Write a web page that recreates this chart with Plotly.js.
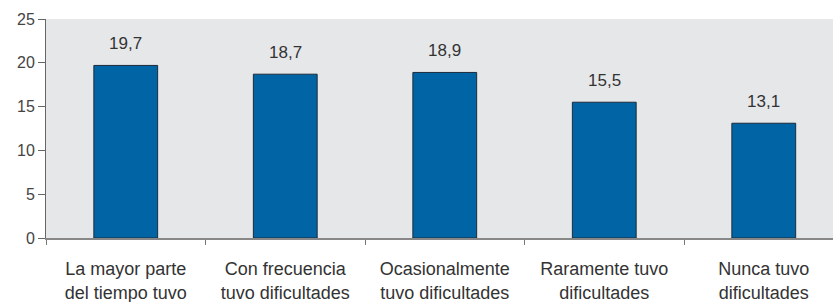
<!DOCTYPE html>
<html><head><meta charset="utf-8">
<script src="https://cdn.plot.ly/plotly-3.0.1.min.js"></script>
<style>body{margin:0;padding:0;background:#fff}#chart{width:833px;height:302px}</style>
</head><body><div id="chart"></div>
<script>
const categories = [
  "La mayor parte<br>del tiempo tuvo",
  "Con frecuencia<br>tuvo dificultades",
  "Ocasionalmente<br>tuvo dificultades",
  "Raramente tuvo<br>dificultades",
  "Nunca tuvo<br>dificultades"
];
const values = [19.7, 18.7, 18.9, 15.5, 13.1];
const valueLabels = ["19,7", "18,7", "18,9", "15,5", "13,1"];
const yTicks = [0, 5, 10, 15, 20, 25];

const fam = "Liberation Sans, Arial, sans-serif";

const trace = {
  type: "bar",
  x: categories,
  y: values,
  width: 0.4,
  marker: {color: "#0064a5", line: {color: "#1c2b3a", width: 1}},
  hoverinfo: "none"
};

const annotations = categories.map((c, i) => ({
  x: c, y: values[i], text: valueLabels[i], showarrow: false,
  yanchor: "bottom", yshift: 10, font: {family: fam, size: 17, color: "#333"}
}));

const layout = {
  width: 833, height: 302,
  margin: {l: 46, r: 0, t: 19, b: 64},
  paper_bgcolor: "#fff",
  plot_bgcolor: "#e6e7e9",
  font: {family: fam, size: 16, color: "#333"},
  showlegend: false,
  xaxis: {
    type: "category",
    range: [-0.5, 4.434],
    tickson: "boundaries",
    ticks: "outside", ticklen: 5, tickcolor: "#777", tickwidth: 1,
    showline: true, linecolor: "#888", linewidth: 1.5,
    showgrid: false, zeroline: false,
    ticklabelstandoff: 14,
    tickfont: {family: fam, size: 18, color: "#333"}
  },
  yaxis: {
    range: [0, 25],
    tickvals: yTicks,
    ticktext: yTicks.map(String),
    ticks: "outside", ticklen: 7, tickcolor: "#666", tickwidth: 1,
    showline: true, linecolor: "#666", linewidth: 1,
    showgrid: false, zeroline: false,
    tickfont: {family: fam, size: 16, color: "#444"}
  },
  annotations: annotations
};

Plotly.newPlot("chart", [trace], layout, {displayModeBar: false, staticPlot: true});
</script></body></html>
